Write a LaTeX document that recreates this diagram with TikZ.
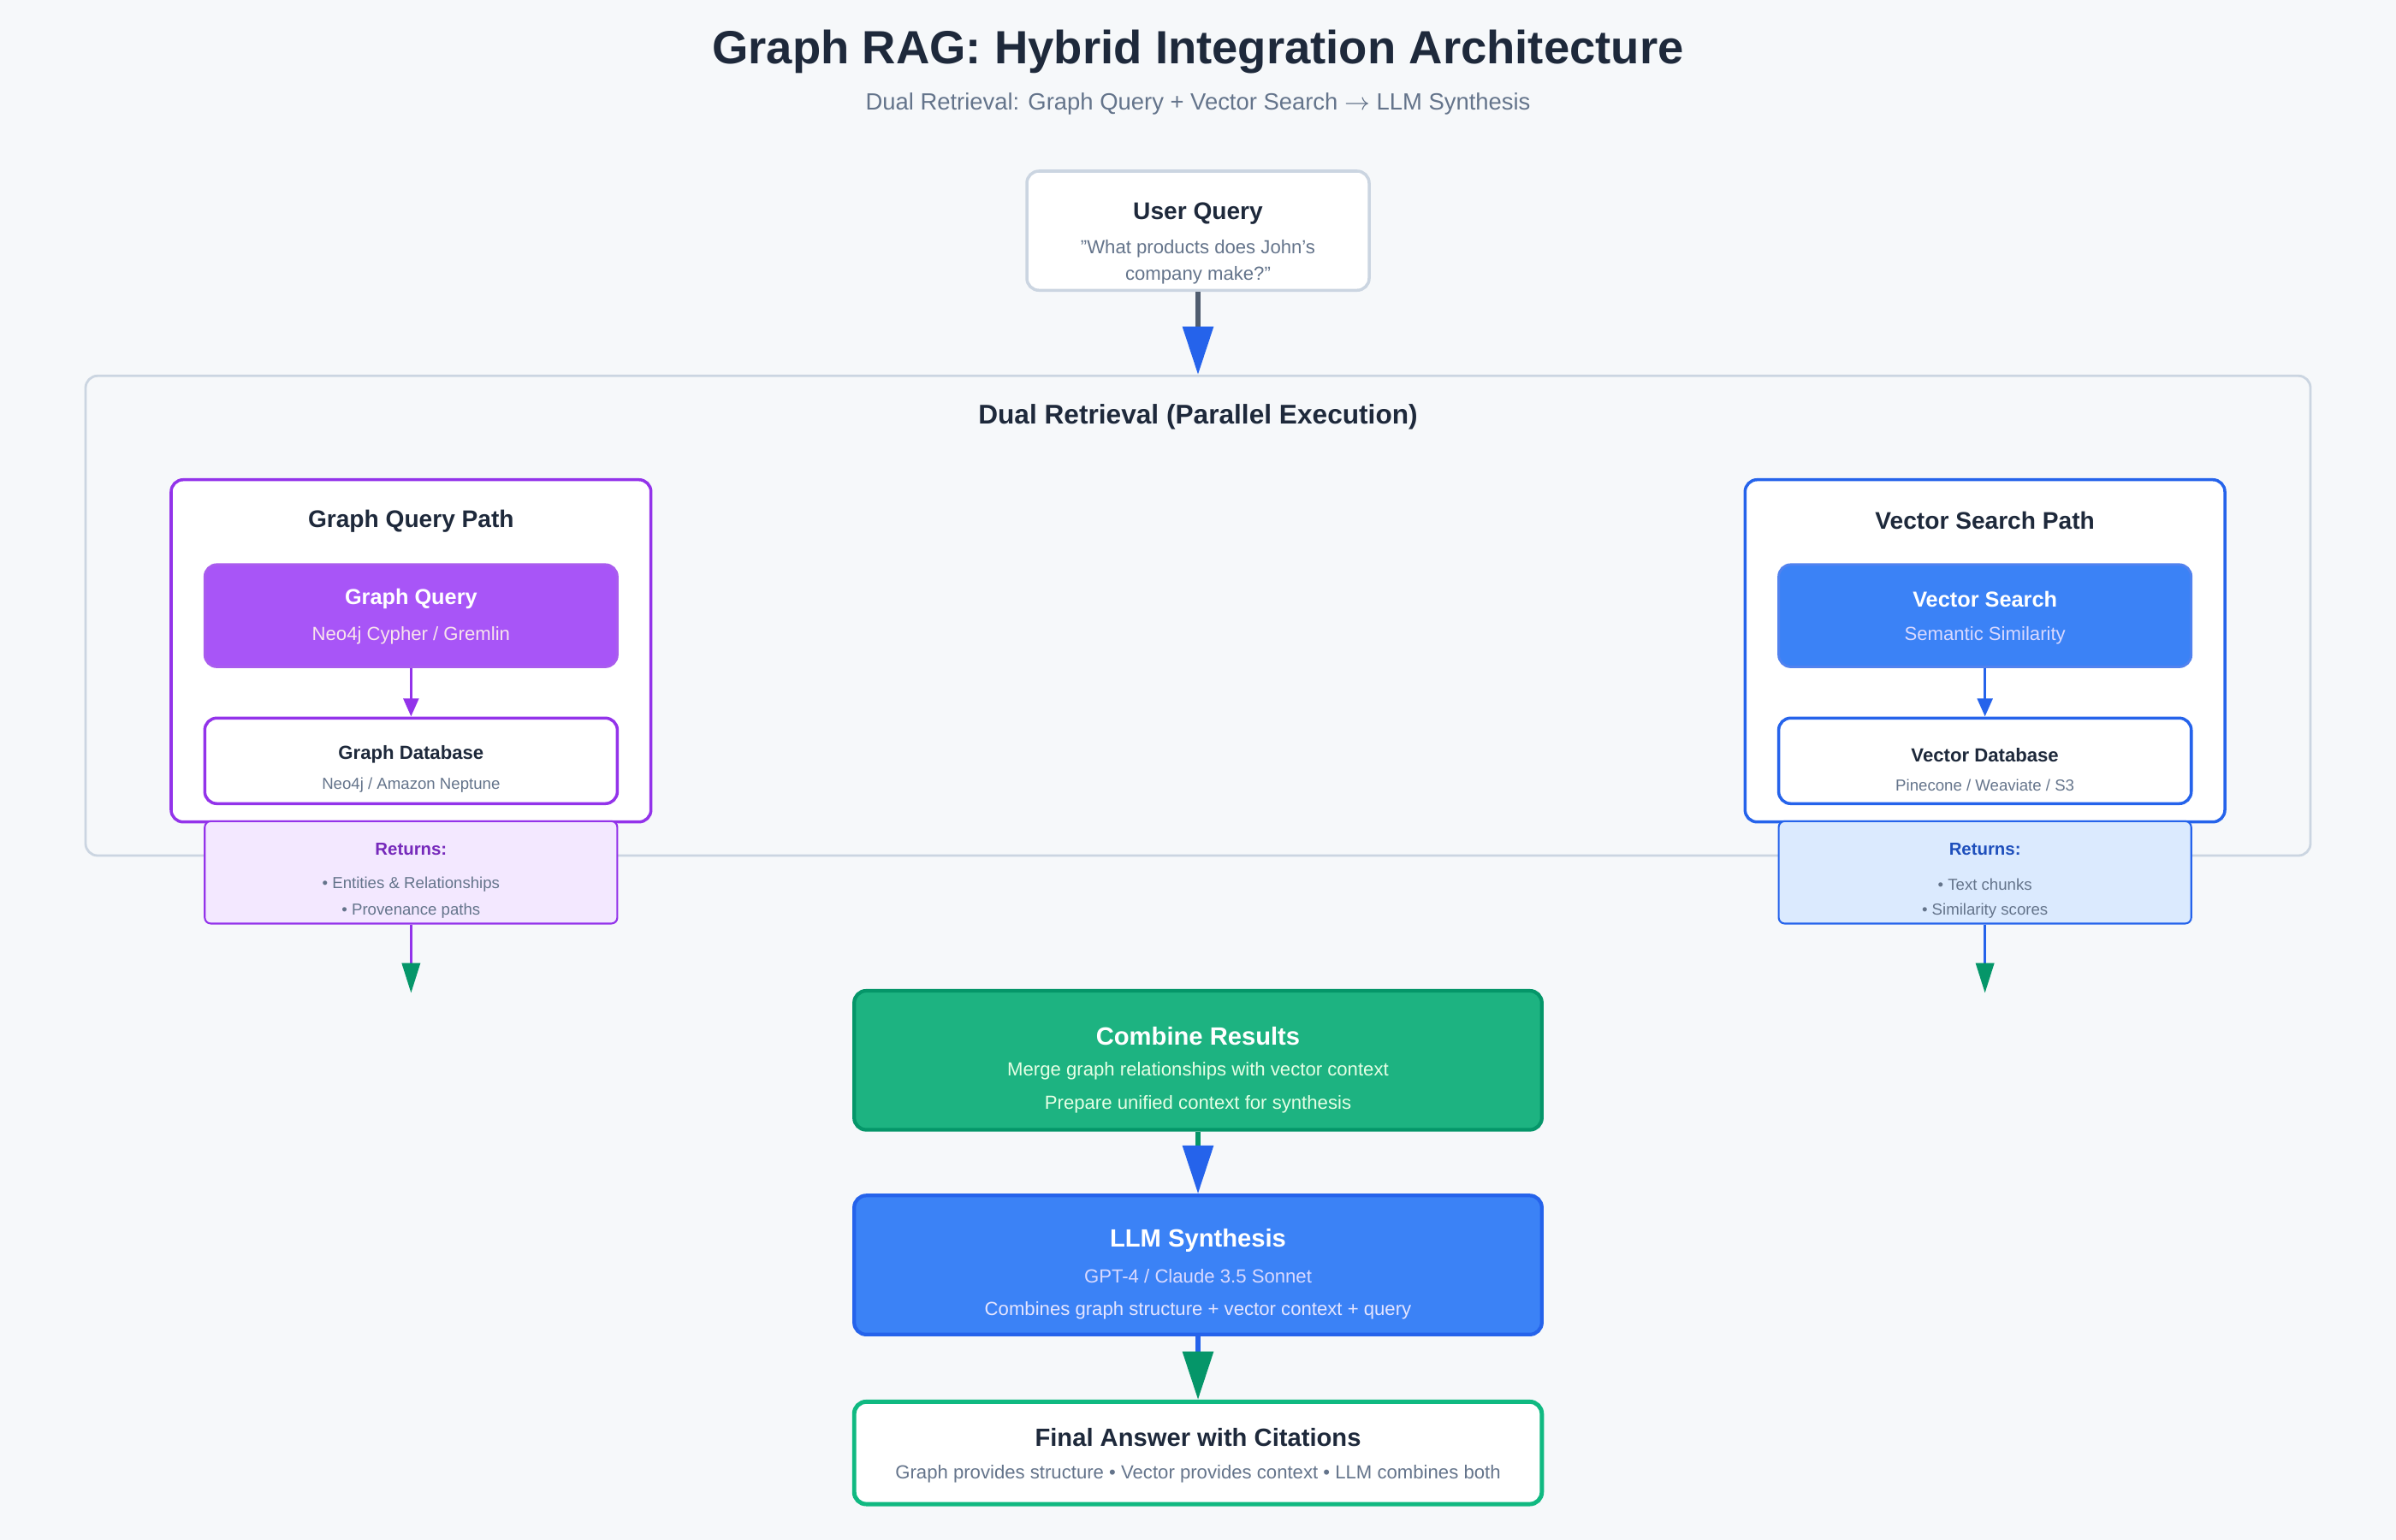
\documentclass[tikz,border=0pt]{standalone}
\usepackage{fontspec}
\setmainfont{Liberation Sans}
\usetikzlibrary{arrows.meta,positioning}
\definecolor{ink}{HTML}{1E293B}
\definecolor{mute}{HTML}{64748B}
\definecolor{pur}{HTML}{9333EA}
\definecolor{purfill}{HTML}{A855F7}
\definecolor{purlite}{HTML}{F3E8FF}
\definecolor{blu}{HTML}{2563EB}
\definecolor{blufill}{HTML}{3B82F6}
\definecolor{blulite}{HTML}{DBEAFE}
\definecolor{grn}{HTML}{059669}
\definecolor{grnfill}{HTML}{1DB381}
\definecolor{grnbord}{HTML}{10B981}
\definecolor{frame}{HTML}{CBD5E1}
\definecolor{bg}{HTML}{F6F8FA}
\newcommand\pxu{0.017857cm}
\newcommand\fs[1]{\fontsize{#1}{#1*1.2}\selectfont}
\begin{document}
\begin{tikzpicture}[x=0.017857cm, y=-0.017857cm,
  box/.style={rectangle, rounded corners=4pt, minimum width=#1*\pxu},
  txt/.style={inner sep=0pt, text=ink, font=\fs{8pt}\bfseries},
  sub/.style={inner sep=0pt, text=mute, font=\fs{6.3pt}},
  small/.style={inner sep=0pt, font=\fs{5.3pt}},
  flow/.style={line width=1.6pt, -{Triangle[length=9pt, width=8pt]}},
  link/.style={line width=1pt, -{Triangle[length=6pt, width=5pt]}}]
\useasboundingbox[fill=bg] (0,0) rectangle (1568,1008);

% title
\node[txt, font=\fs{15.5pt}\bfseries] (title) at (784,34) {Graph RAG: Hybrid Integration Architecture};
\node[sub, font=\fs{7.8pt}] (subtitle) at (784,68) {Dual Retrieval: Graph Query + Vector Search $\rightarrow$ LLM Synthesis};

% user query
\node[box=224, draw=frame, line width=1pt, fill=white, minimum height=78*\pxu] (uq) at (784,151) {};
\node[txt] at (784,140) {User Query};
\node[sub] at (784,163) {"What products does John's};
\node[sub] at (784,180) {company make?"};

% dual retrieval container
\node[box=1456, draw=frame, line width=0.8pt, fill=bg, minimum height=314*\pxu] (dual) at (784,403) {};
\node[txt, font=\fs{9pt}\bfseries] at (784,273) {Dual Retrieval (Parallel Execution)};

% graph path
\node[box=314, draw=pur, line width=1pt, fill=white, minimum height=224*\pxu] (gpath) at (269,426) {};
\node[txt] at (269,341) {Graph Query Path};
\node[box=270, fill=purfill, draw=pur!80, line width=0.8pt, minimum height=67*\pxu] (gq) at (269,403) {};
\node[txt, text=white, font=\fs{7.2pt}\bfseries] at (269,392) {Graph Query};
\node[sub, text=white!90!purple] at (269,416) {Neo4j Cypher / Gremlin};
\node[box=270, fill=white, draw=pur, line width=1pt, minimum height=56*\pxu] (gdb) at (269,498) {};
\node[txt, font=\fs{6.3pt}\bfseries] at (269,494) {Graph Database};
\node[small, text=mute] at (269,514) {Neo4j / Amazon Neptune};
\node[box=270, rounded corners=2pt, fill=purlite, draw=pur, line width=0.6pt, minimum height=67*\pxu] (gret) at (269,571) {};
\node[small, text=pur!80!black, font=\fs{5.8pt}\bfseries] at (269,556) {Returns:};
\node[small, text=mute] at (269,579) {• Entities \& Relationships};
\node[small, text=mute] at (269,596) {• Provenance paths};
\coordinate (gend) at (269,650);

% vector path
\node[box=314, draw=blu, line width=1pt, fill=white, minimum height=224*\pxu] (vpath) at (1299,426) {};
\node[txt] at (1299,341) {Vector Search Path};
\node[box=270, fill=blufill, draw=blu!80, line width=0.8pt, minimum height=67*\pxu] (vs) at (1299,403) {};
\node[txt, text=white, font=\fs{7.2pt}\bfseries] at (1299,392) {Vector Search};
\node[sub, text=white!85!blue] at (1299,416) {Semantic Similarity};
\node[box=270, fill=white, draw=blu, line width=1pt, minimum height=56*\pxu] (vdb) at (1299,498) {};
\node[txt, font=\fs{6.3pt}\bfseries] at (1299,494) {Vector Database};
\node[small, text=mute] at (1299,514) {Pinecone / Weaviate / S3};
\node[box=270, rounded corners=2pt, fill=blulite, draw=blu, line width=0.6pt, minimum height=67*\pxu] (vret) at (1299,571) {};
\node[small, text=blu!80!black, font=\fs{5.8pt}\bfseries] at (1299,556) {Returns:};
\node[small, text=mute] at (1299,579) {• Text chunks};
\node[small, text=mute] at (1299,596) {• Similarity scores};
\coordinate (vend) at (1299,650);

% combine, synthesis, answer
\node[box=450, fill=grnfill, draw=grn, line width=1.2pt, minimum height=91*\pxu] (comb) at (784,694) {};
\node[txt, text=white, font=\fs{8.3pt}\bfseries] at (784,678) {Combine Results};
\node[sub, text=white!90!green] at (784,701) {Merge graph relationships with vector context};
\node[sub, text=white!90!green] at (784,723) {Prepare unified context for synthesis};
\node[box=450, fill=blufill, draw=blu, line width=1.2pt, minimum height=91*\pxu] (llm) at (784,828) {};
\node[txt, text=white, font=\fs{8.3pt}\bfseries] at (784,812) {LLM Synthesis};
\node[sub, text=white!85!blue] at (784,835) {GPT-4 / Claude 3.5 Sonnet};
\node[sub, text=white!90!blue] at (784,858) {Combines graph structure + vector context + query};
\node[box=450, fill=white, draw=grnbord, line width=1.4pt, minimum height=67*\pxu] (ans) at (784,951) {};
\node[txt, font=\fs{8.3pt}\bfseries] at (784,941) {Final Answer with Citations};
\node[sub] at (784,965) {Graph provides structure • Vector provides context • LLM combines both};

% connectors
\draw[flow, draw=mute!80!black, -{Triangle[length=16pt, width=10pt, color=blu]}] (uq.south) -- (dual.north);
\draw[link, draw=pur] (gq.south) -- (gdb.north);
\draw[link, draw=blu] (vs.south) -- (vdb.north);
\draw[link, draw=pur, -{Triangle[length=10pt, width=6pt, color=grn]}] (gret.south) -- (gend);
\draw[link, draw=blu, -{Triangle[length=10pt, width=6pt, color=grn]}] (vret.south) -- (vend);
\draw[flow, draw=grn, -{Triangle[length=16pt, width=10pt, color=blu]}] (comb.south) -- (llm.north);
\draw[flow, draw=blu, -{Triangle[length=16pt, width=10pt, color=grn]}] (llm.south) -- (ans.north);
\end{tikzpicture}
\end{document}
